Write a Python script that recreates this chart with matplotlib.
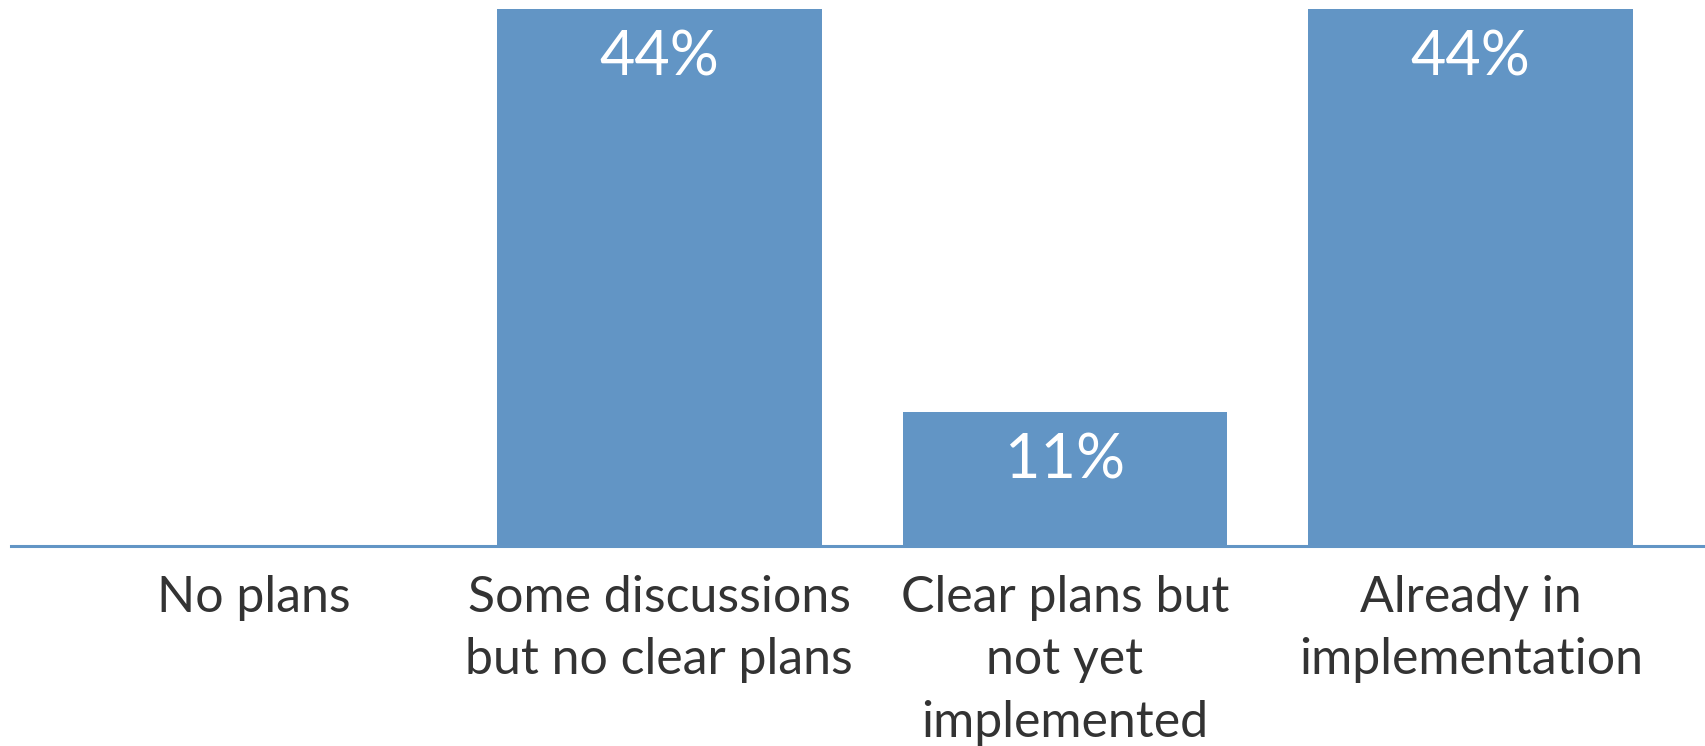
import matplotlib.pyplot as plt

plt.switch_backend('agg')

categories = ["No plans", "Some discussions\nbut no clear plans",
              "Clear plans but\nnot yet\nimplemented", "Already in\nimplementation"]
shares = [0, 44, 11, 44]
value_labels = ["", "44%", "11%", "44%"]

bar_color = "#6295c5"
text_color = "#333333"

plt.rcParams['font.family'] = ['Lato', 'DejaVu Sans']

fig = plt.figure(figsize=(17.06, 7.46), dpi=100)
ax = fig.add_axes([11 / 1706, 200 / 746, 1695 / 1706, 546 / 746])

x = list(range(len(categories)))
bars = ax.bar(x, shares, width=0.8, color=bar_color, zorder=2)

for rect, label in zip(bars, value_labels):
    if not label:
        continue
    ax.annotate(label, (rect.get_x() + rect.get_width() / 2, rect.get_height()),
                xytext=(0, -67), textcoords='offset pixels',
                ha='center', va='baseline', color='white', fontsize=44)

ax.set_xlim(-0.598, 3.58)
ax.set_ylim(0, 44 * 546 / 537)
ax.set_xticks(x)
ax.set_xticklabels(categories, fontsize=36, color=text_color, linespacing=1.44)
ax.tick_params(axis='x', length=0, pad=21)
ax.set_yticks([])

for side in ['top', 'right', 'left']:
    ax.spines[side].set_visible(False)
ax.spines['bottom'].set_color(bar_color)
ax.spines['bottom'].set_linewidth(2.2)

fig.savefig("out.png", dpi=100)
plt.close('all')
